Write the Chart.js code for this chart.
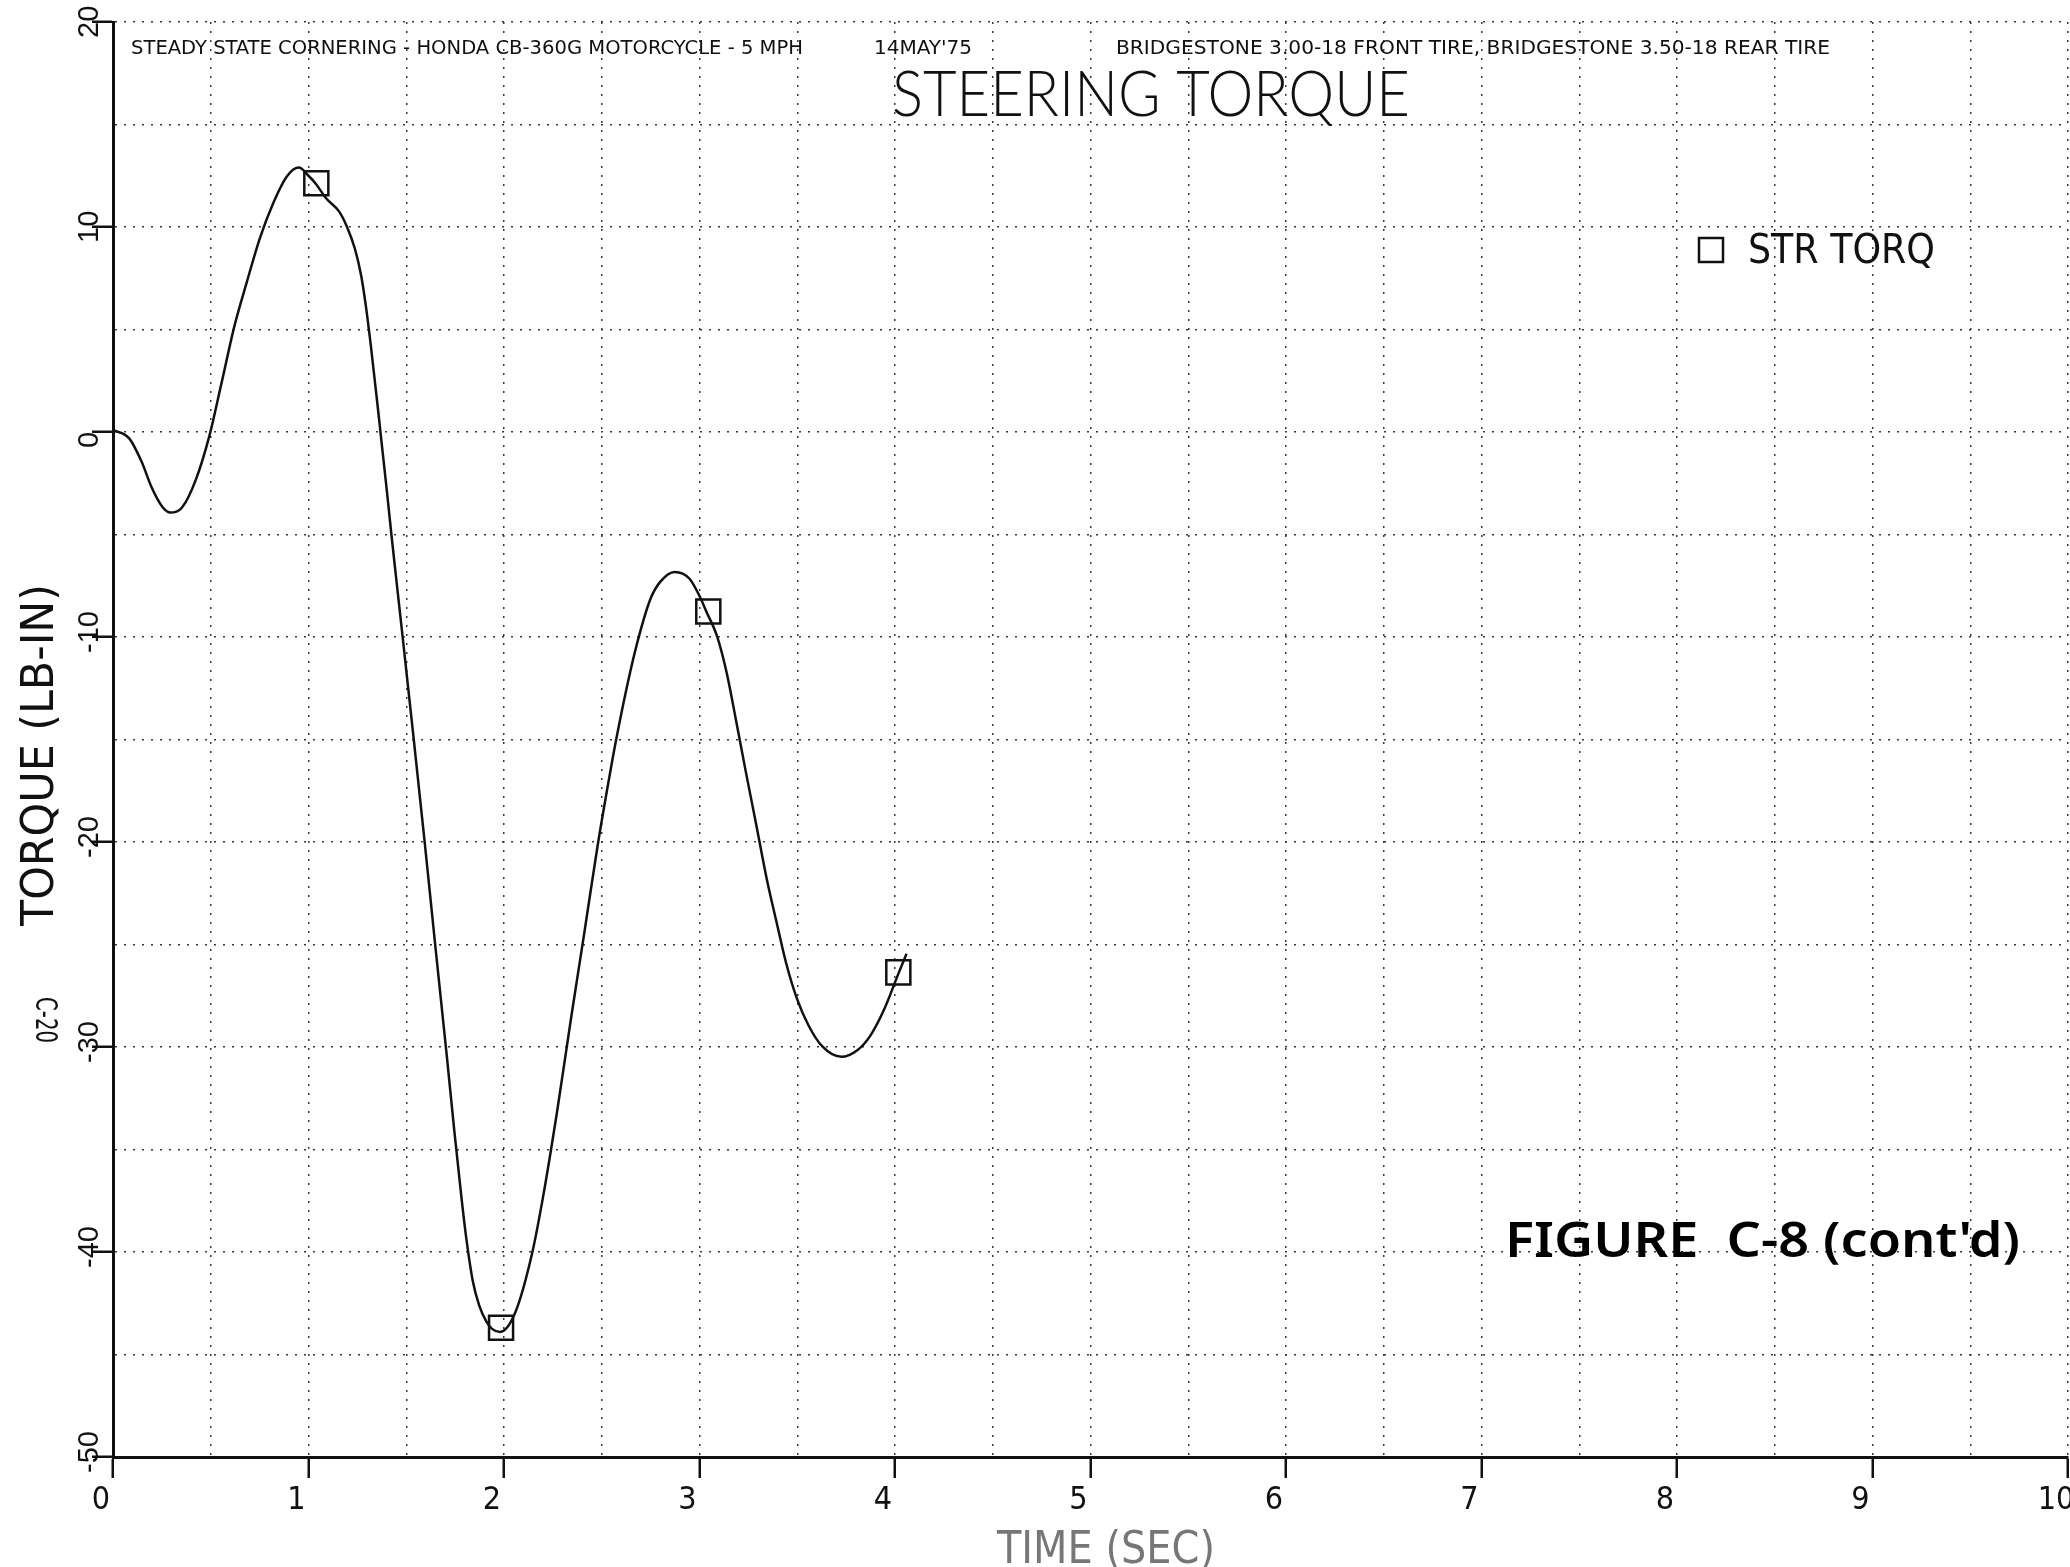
<!DOCTYPE html>
<html>
<head>
<meta charset="utf-8">
<title>Steering Torque</title>
<script src="https://cdn.jsdelivr.net/npm/chart.js@4.4.1/dist/chart.umd.min.js"></script>
<style>
  html, body { margin: 0; padding: 0; background: #fff; }
  #wrap { width: 2070px; height: 1567px; }
</style>
</head>
<body>
<div id="wrap"><canvas id="torqueChart" width="2070" height="1567"></canvas></div>
<script>
// Data (time in sec, torque in lb-in)
const timeSec = [0, 0.083, 0.146, 0.198, 0.251, 0.294, 0.353, 0.422, 0.493, 0.553,
  0.622, 0.684, 0.751, 0.821, 0.890, 0.951, 1.000, 1.038, 1.090, 1.156,
  1.196, 1.237, 1.270, 1.294, 1.319, 1.351, 1.376, 1.400, 1.424, 1.477,
  1.534, 1.592, 1.649, 1.707, 1.746, 1.783, 1.808, 1.840, 1.873, 1.910,
  1.939, 1.980, 2.056, 2.143, 2.200, 2.272, 2.343, 2.415, 2.478, 2.545,
  2.580, 2.644, 2.695, 2.751, 2.800, 2.873, 2.949, 3.000, 3.037, 3.088,
  3.137, 3.187, 3.236, 3.291, 3.344, 3.394, 3.443, 3.497, 3.558, 3.626,
  3.726, 3.807, 3.875, 3.943, 4.020, 4.059];
const strTorq = [0.1, -0.31, -1.44, -2.71, -3.63, -3.93, -3.68, -2.37, -0.19, 2.3,
  5.2, 7.3, 9.45, 11.2, 12.48, 12.9, 12.5, 12.1, 11.4, 10.76,
  10.03, 8.95, 7.6, 6.1, 4.2, 1.5, -0.7, -2.8, -5.0, -9.6,
  -14.6, -19.8, -25.1, -30.4, -34.1, -37.4, -39.4, -41.4, -42.6, -43.4,
  -43.75, -43.9, -42.99, -40.1, -37.3, -33.12, -28.6, -24.17, -20.23, -16.5,
  -14.7, -11.77, -9.8, -8.1, -7.3, -6.83, -7.16, -8.0, -8.8, -9.91,
  -11.66, -14.07, -16.53, -19.19, -21.8, -23.9, -25.9, -27.6, -28.95, -29.95,
  -30.48, -30.16, -29.43, -28.2, -26.36, -25.45];

// square symbols on the curve
const markTime = [1.040, 1.985, 3.045, 4.017];
const markTorq = [12.13, -43.7, -8.76, -26.36];

const xMin = 0, xMax = 10, xStep = 0.5;
const yMin = -50, yMax = 20, yStep = 5;

const headerLeft = 'STEADY STATE CORNERING - HONDA CB-360G MOTORCYCLE - 5 MPH';
const headerDate = "14MAY'75";
const headerTires = 'BRIDGESTONE 3.00-18 FRONT TIRE, BRIDGESTONE 3.50-18 REAR TIRE';
const titleText = 'STEERING TORQUE';
const legendText = 'STR TORQ';
const xTitle = 'TIME (SEC)';
const yTitle = 'TORQUE (LB-IN)';
const pageStamp = 'C-20';
const figureNote = "FIGURE  C-8 (cont'd)";

const plotFont = "'Liberation Sans Narrow', 'DejaVu Sans Condensed', 'Liberation Sans', sans-serif";
const ink = '#111';

const isWhole = v => Math.abs(v - Math.round(v)) < 1e-6;

// draw text squeezed/stretched to a given width
function fitText(c, txt, x, y, w, font, rot) {
    c.save();
    c.font = font;
    c.translate(x, y);
    if (rot) c.rotate(rot);
    const m = c.measureText(txt).width;
    c.scale(w / m, 1);
    c.textAlign = 'left';
    c.textBaseline = 'alphabetic';
    c.fillText(txt, 0, 0);
    c.restore();
}

const paperText = {
    id: 'paperText',
    beforeDraw(chart) {
        const c = chart.ctx;
        c.save();
        c.fillStyle = '#fff';
        c.fillRect(0, 0, chart.width, chart.height);
        c.restore();
    },
    afterDraw(chart) {
        const c = chart.ctx;
        c.save();
        c.fillStyle = ink;
        fitText(c, headerLeft, 131, 54, 672, '19px ' + plotFont);
        fitText(c, headerDate, 874, 54, 98, '19px ' + plotFont);
        fitText(c, headerTires, 1116, 54, 714, '19px ' + plotFont);
        fitText(c, titleText, 892, 116, 518, '300 63px Lato, ' + plotFont);

        // legend
        c.strokeStyle = ink;
        c.lineWidth = 2.5;
        c.strokeRect(1699, 238, 24, 24);
        fitText(c, legendText, 1748, 263, 187, '41px ' + plotFont);

        // axis titles
        fitText(c, yTitle, 53, 926, 342, '44px ' + plotFont, -Math.PI / 2);
        fitText(c, pageStamp, 36, 997, 46, '30px ' + plotFont, Math.PI / 2);
        c.fillStyle = '#777';
        fitText(c, xTitle, 997, 1563, 218, '44px ' + plotFont);

        // handwritten figure number
        c.fillStyle = '#000';
        fitText(c, figureNote, 1505, 1257, 515, '600 48px "Noto Sans", sans-serif');
        c.restore();
    }
};

const ctx = document.getElementById('torqueChart').getContext('2d');

new Chart(ctx, {
    type: 'line',
    data: {
        datasets: [
            {
                label: legendText,
                data: timeSec.map((t, i) => ({ x: t, y: strTorq[i] })),
                borderColor: ink,
                borderWidth: 2.5,
                pointRadius: 0,
                cubicInterpolationMode: 'monotone',
                fill: false
            },
            {
                label: legendText + ' symbols',
                data: markTime.map((t, i) => ({ x: t, y: markTorq[i] })),
                showLine: false,
                pointStyle: 'rect',
                pointRadius: 17,
                pointBorderWidth: 2.5,
                borderColor: ink,
                pointBorderColor: ink,
                pointBackgroundColor: 'rgba(0,0,0,0)'
            }
        ]
    },
    options: {
        responsive: false,
        animation: false,
        devicePixelRatio: 1,
        events: [],
        layout: { autoPadding: false, padding: { left: 75, top: 22, right: 2, bottom: 0 } },
        plugins: {
            legend: { display: false },
            tooltip: { enabled: false }
        },
        scales: {
            x: {
                type: 'linear',
                min: xMin,
                max: xMax,
                afterFit: s => { s.height = 110; s.paddingLeft = 0; s.paddingRight = 0; },
                ticks: {
                    stepSize: xStep,
                    autoSkip: false,
                    maxRotation: 0,
                    padding: 3,
                    labelOffset: -12,
                    color: ink,
                    font: { family: plotFont, size: 32 },
                    callback: v => isWhole(v) ? String(Math.round(v)) : ''
                },
                grid: {
                    color: '#3a3a3a',
                    lineWidth: 1.5,
                    tickLength: 21,
                    tickWidth: 2.5,
                    tickColor: c => (c.tick && isWhole(c.tick.value)) ? ink : 'rgba(0,0,0,0)'
                },
                border: { display: true, color: ink, width: 3, dash: [2, 7] }
            },
            y: {
                type: 'linear',
                min: yMin,
                max: yMax,
                afterFit: s => { s.width = 38; s.paddingTop = 0; s.paddingBottom = 0; },
                ticks: {
                    stepSize: yStep,
                    autoSkip: false,
                    minRotation: 90,
                    maxRotation: 90,
                    crossAlign: 'far',
                    align: 'start',
                    labelOffset: 16,
                    color: ink,
                    font: { family: "'Liberation Sans', 'DejaVu Sans', sans-serif", size: 29 },
                    callback: v => (v % 10 === 0) ? String(v) : ''
                },
                grid: {
                    color: '#3a3a3a',
                    lineWidth: 1.5,
                    tickLength: 21,
                    tickWidth: 2.5,
                    tickColor: c => (c.tick && c.tick.value % 10 === 0) ? ink : 'rgba(0,0,0,0)'
                },
                border: { display: true, color: ink, width: 3, dash: [2, 7] }
            }
        }
    },
    plugins: [paperText]
});
</script>
</body>
</html>
